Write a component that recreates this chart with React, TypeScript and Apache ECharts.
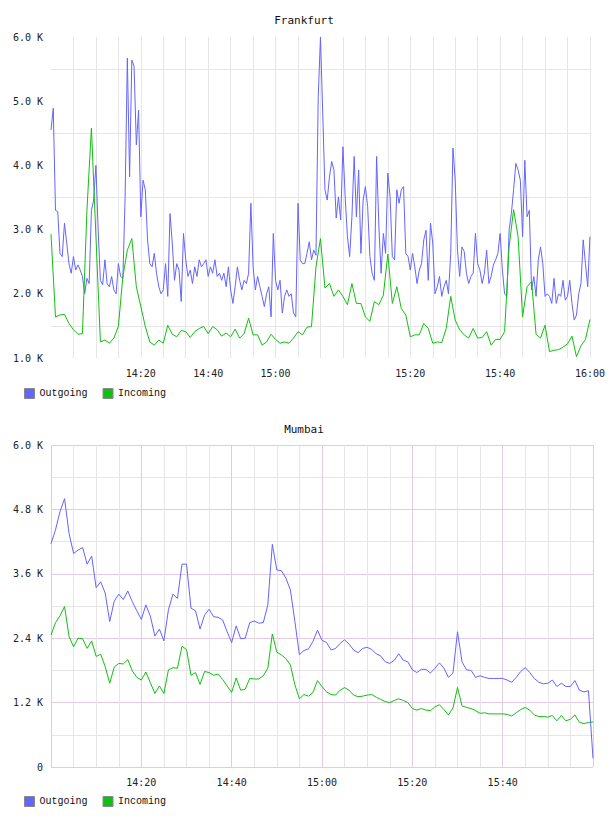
import React, { useEffect, useRef } from "react";
import * as echarts from "echarts";

// Frankfurt: outgoing sampled every 30 s, incoming every minute (values in K)
const FRA_OUT = [
  4.55, 4.89, 3.30, 3.28, 2.63, 2.58, 3.10, 2.79, 2.47, 2.32,
  2.58, 2.37, 2.45, 2.37, 2.27, 2.00, 2.24, 2.16, 3.30, 3.46,
  4.00, 2.99, 2.21, 2.14, 2.53, 2.16, 2.11, 2.27, 2.06, 2.00,
  2.47, 2.27, 2.24, 3.50, 5.67, 3.82, 5.64, 5.54, 4.32, 4.86,
  3.20, 3.77, 3.62, 2.84, 2.47, 2.42, 2.63, 2.32, 2.11, 2.00,
  2.06, 2.47, 1.96, 3.25, 2.79, 2.21, 2.47, 2.37, 1.88, 2.94,
  2.53, 2.27, 2.37, 2.16, 2.42, 2.27, 2.53, 2.42, 2.47, 2.53,
  2.27, 2.42, 2.32, 2.53, 2.27, 2.32, 2.21, 2.32, 2.11, 2.42,
  2.06, 1.85, 2.11, 2.42, 2.21, 2.06, 2.21, 2.16, 2.32, 3.41,
  2.42, 2.06, 2.27, 2.11, 1.96, 1.80, 2.00, 2.11, 1.64, 2.94,
  2.21, 2.06, 2.21, 1.70, 1.96, 2.06, 1.96, 2.00, 1.70, 1.64,
  3.41, 2.53, 2.47, 2.47, 2.63, 2.81, 2.53, 2.68, 2.60, 5.07,
  6.00, 4.81, 3.62, 3.46, 3.82, 4.06, 3.93, 3.18, 3.51, 3.15,
  4.29, 3.51, 2.89, 2.58, 3.20, 4.14, 3.20, 3.93, 2.63, 3.46,
  3.67, 3.36, 2.58, 2.32, 2.21, 4.14, 3.05, 2.32, 2.94, 2.63,
  3.88, 3.51, 2.58, 2.53, 3.62, 3.41, 3.62, 3.67, 2.63, 2.58,
  2.37, 2.63, 2.42, 2.16, 2.37, 2.47, 2.84, 2.99, 2.21, 3.10,
  2.79, 2.00, 2.11, 2.27, 1.96, 2.11, 2.21, 2.00, 2.63, 4.27,
  3.77, 2.68, 2.27, 2.73, 2.66, 2.32, 2.16, 2.27, 2.32, 2.94,
  2.47, 2.37, 2.16, 2.32, 2.68, 2.16, 2.27, 2.45, 2.53, 2.63,
  2.94, 2.37, 2.00, 1.96, 2.99, 3.25, 3.62, 4.03, 3.93, 3.77,
  2.89, 4.08, 3.20, 3.30, 2.06, 2.27, 1.96, 2.53, 2.73, 2.47,
  1.96, 2.00, 1.96, 1.85, 2.24, 1.85, 2.00, 1.96, 2.21, 1.90,
  1.96, 2.21, 1.85, 1.59, 1.67, 2.00, 2.16, 2.84, 2.47, 2.11, 2.89,
];

const FRA_IN = [
  2.93, 1.64, 1.67, 1.68, 1.54, 1.44, 1.37, 1.38, 3.30, 4.58,
  2.90, 1.25, 1.28, 1.23, 1.31, 1.49, 2.27, 2.68, 2.86, 2.11,
  1.80, 1.49, 1.25, 1.20, 1.28, 1.23, 1.51, 1.37, 1.33, 1.43,
  1.41, 1.32, 1.41, 1.46, 1.49, 1.38, 1.49, 1.44, 1.34, 1.39,
  1.33, 1.45, 1.31, 1.38, 1.62, 1.36, 1.36, 1.20, 1.25, 1.37,
  1.29, 1.23, 1.25, 1.23, 1.31, 1.41, 1.36, 1.48, 1.49, 2.42,
  2.86, 2.09, 2.16, 1.96, 2.06, 1.96, 1.83, 2.16, 1.85, 1.85,
  1.64, 1.57, 1.88, 1.83, 1.98, 2.62, 1.85, 2.11, 1.77, 1.67,
  1.33, 1.36, 1.36, 1.54, 1.46, 1.23, 1.25, 1.24, 1.46, 1.96,
  1.59, 1.44, 1.36, 1.31, 1.46, 1.31, 1.32, 1.41, 1.20, 1.29,
  1.29, 1.41, 2.73, 3.31, 2.89, 1.64, 2.11, 2.19, 1.37, 1.31,
  1.51, 1.10, 1.12, 1.13, 1.17, 1.22, 1.34, 1.02, 1.19, 1.29, 1.60,
];

// Mumbai: both directions sampled every minute (values in K)
const BOM_OUT = [
  4.16, 4.42, 4.76, 5.00, 4.35, 3.98, 4.04, 4.09, 3.78, 3.93,
  3.34, 3.45, 3.24, 2.71, 3.09, 3.22, 3.12, 3.28, 3.08, 2.91,
  2.75, 3.02, 2.81, 2.44, 2.57, 2.35, 2.93, 3.22, 3.14, 3.78,
  3.78, 2.96, 2.91, 2.57, 2.83, 2.94, 2.80, 2.79, 2.74, 2.52,
  2.32, 2.63, 2.39, 2.40, 2.69, 2.72, 2.68, 2.69, 3.02, 4.15,
  3.67, 3.66, 3.52, 3.30, 2.71, 2.09, 2.17, 2.20, 2.34, 2.55,
  2.36, 2.32, 2.18, 2.21, 2.30, 2.37, 2.29, 2.18, 2.13, 2.21,
  2.23, 2.19, 2.11, 2.07, 1.96, 1.93, 1.99, 2.11, 1.99, 1.96,
  1.81, 1.76, 1.82, 1.82, 1.75, 1.84, 1.94, 1.84, 1.67, 1.75,
  2.52, 1.96, 1.81, 1.80, 1.67, 1.70, 1.67, 1.65, 1.65, 1.65,
  1.65, 1.62, 1.58, 1.67, 1.78, 1.85, 1.76, 1.65, 1.58, 1.55,
  1.56, 1.62, 1.50, 1.56, 1.50, 1.50, 1.61, 1.43, 1.40, 1.42, 0.16,
];

const BOM_IN = [
  2.46, 2.69, 2.82, 2.99, 2.43, 2.24, 2.40, 2.39, 2.21, 2.35,
  2.06, 2.10, 1.87, 1.56, 1.86, 1.93, 1.92, 2.00, 1.79, 1.67,
  1.62, 1.77, 1.57, 1.37, 1.51, 1.37, 1.81, 1.85, 1.84, 2.25,
  2.19, 1.71, 1.76, 1.54, 1.78, 1.76, 1.71, 1.73, 1.63, 1.51,
  1.39, 1.66, 1.43, 1.45, 1.65, 1.64, 1.64, 1.70, 1.84, 2.48,
  2.14, 2.09, 2.02, 1.90, 1.53, 1.27, 1.35, 1.32, 1.39, 1.61,
  1.50, 1.40, 1.35, 1.34, 1.43, 1.48, 1.43, 1.34, 1.31, 1.32,
  1.34, 1.35, 1.30, 1.26, 1.22, 1.20, 1.24, 1.27, 1.24, 1.20,
  1.09, 1.06, 1.09, 1.06, 1.05, 1.12, 1.16, 1.07, 0.97, 1.10,
  1.48, 1.14, 1.11, 1.09, 1.05, 1.00, 1.01, 0.99, 0.99, 0.99,
  0.99, 0.98, 0.95, 1.01, 1.07, 1.11, 1.06, 0.97, 0.94, 0.94,
  0.93, 0.96, 0.86, 0.96, 0.86, 0.89, 0.97, 0.83, 0.81, 0.83, 0.84,
];

// time axis: minutes after 14:00
const FRA_TICK_MIN = [20, 35, 50, 80, 100, 120];
const FRA_TICK_LABELS = ["14:20", "14:40", "15:00", "15:20", "15:40", "16:00"];
const BOM_TICK_MIN = [20, 40, 60, 80, 100];
const BOM_TICK_LABELS = ["14:20", "14:40", "15:00", "15:20", "15:40"];

const SERIES_NAMES = ["Outgoing", "Incoming"];
const TITLES = ["Frankfurt", "Mumbai"];

const BLUE = "#6464ff";
const GREEN = "#10c010";
const GRID_GRAY = "#e6e6e6";
const GRID_PURPLE = "#e2cbe2";
const MONO = "'DejaVu Sans Mono', monospace";
const LEGEND_FONT = "'Liberation Mono', 'DejaVu Sans Mono', monospace";

const toPairs = (values: number[], stepMin: number) =>
  values.map((v, i) => [i * stepMin, v]);

const tickFormatter = (mins: number[], labels: string[]) => (v: number) => {
  const k = mins.indexOf(Math.round(v));
  return k >= 0 ? labels[k] : "";
};

export default function App() {
  const ref = useRef<HTMLDivElement>(null);

  useEffect(() => {
    if (!ref.current) return;
    const chart = echarts.init(ref.current, undefined, { renderer: "svg" });

    const axisText = { color: "#222", fontFamily: MONO, fontSize: 10 };
    const lineSeries = (
      name: string,
      color: string,
      data: number[][],
      idx: number
    ) => ({
      name,
      type: "line",
      xAxisIndex: idx,
      yAxisIndex: idx,
      data,
      showSymbol: false,
      symbol: "none",
      lineStyle: { color, width: 1 },
      itemStyle: { color },
      clip: true,
    });

    // each chart has its own legend; the second pair of series carries a
    // trailing space in its name so the two legends stay independent
    const legend = (top: number, suffix: string) => ({
      left: 24,
      top,
      padding: 0,
      itemWidth: 10,
      itemHeight: 10,
      itemGap: 15,
      icon: "rect",
      data: SERIES_NAMES.map((n) => ({ name: n + suffix })),
      formatter: (n: string) => n.trim(),
      textStyle: { color: "#111", fontFamily: LEGEND_FONT, fontSize: 10 },
      itemStyle: { borderColor: "#888", borderWidth: 1 },
    });

    chart.setOption({
      animation: false,
      backgroundColor: "#fff",
      title: TITLES.map((t, i) => ({
        text: t,
        left: "center",
        top: i === 0 ? 15 : 424,
        padding: 0,
        textStyle: {
          color: "#111",
          fontFamily: MONO,
          fontSize: 11,
          fontWeight: "normal",
        },
      })),
      legend: [legend(388, ""), legend(796, " ")],
      grid: [
        { left: 51, right: 15, top: 37, height: 321 },
        { left: 51, right: 15, top: 445, height: 322 },
      ],
      xAxis: [
        {
          type: "value",
          gridIndex: 0,
          min: 0,
          max: 120,
          interval: 5,
          axisLine: { show: false },
          axisTick: { show: false },
          axisLabel: {
            ...axisText,
            margin: 10,
            formatter: tickFormatter(FRA_TICK_MIN, FRA_TICK_LABELS),
          },
          splitLine: {
            show: true,
            showMinLine: false,
            lineStyle: { color: GRID_GRAY, width: 1 },
          },
        },
        {
          type: "value",
          gridIndex: 1,
          min: 0,
          max: 120,
          interval: 20,
          axisLine: { show: false },
          axisTick: { show: false },
          minorTick: { show: false, splitNumber: 4 },
          minorSplitLine: { show: true, lineStyle: { color: GRID_GRAY, width: 1 } },
          axisLabel: {
            ...axisText,
            margin: 10,
            formatter: tickFormatter(BOM_TICK_MIN, BOM_TICK_LABELS),
          },
          splitLine: { show: true, lineStyle: { color: GRID_PURPLE, width: 1 } },
        },
      ],
      yAxis: [
        {
          type: "value",
          gridIndex: 0,
          min: 1,
          max: 6,
          interval: 1,
          axisLine: { show: false },
          axisTick: { show: false },
          minorTick: { show: false, splitNumber: 2 },
          minorSplitLine: { show: true, lineStyle: { color: GRID_GRAY, width: 1 } },
          splitLine: { show: false },
          axisLabel: {
            ...axisText,
            margin: 8,
            formatter: (v: number) => v.toFixed(1) + " K",
          },
        },
        {
          type: "value",
          gridIndex: 1,
          min: 0,
          max: 6,
          interval: 1.2,
          axisLine: { show: false },
          axisTick: { show: false },
          minorTick: { show: false, splitNumber: 2 },
          minorSplitLine: { show: true, lineStyle: { color: GRID_GRAY, width: 1 } },
          splitLine: { show: true, lineStyle: { color: GRID_PURPLE, width: 1 } },
          axisLabel: {
            ...axisText,
            margin: 8,
            formatter: (v: number) => (v === 0 ? "0" : v.toFixed(1) + " K"),
          },
        },
      ],
      series: [
        lineSeries(SERIES_NAMES[0], BLUE, toPairs(FRA_OUT, 0.5), 0),
        lineSeries(SERIES_NAMES[1], GREEN, toPairs(FRA_IN, 1), 0),
        lineSeries(SERIES_NAMES[0] + " ", BLUE, toPairs(BOM_OUT, 1), 1),
        lineSeries(SERIES_NAMES[1] + " ", GREEN, toPairs(BOM_IN, 1), 1),
      ],
    });

    return () => chart.dispose();
  }, []);

  return (
    <div
      ref={ref}
      style={{ position: "absolute", left: 0, top: 0, width: 608, height: 816 }}
    />
  );
}
